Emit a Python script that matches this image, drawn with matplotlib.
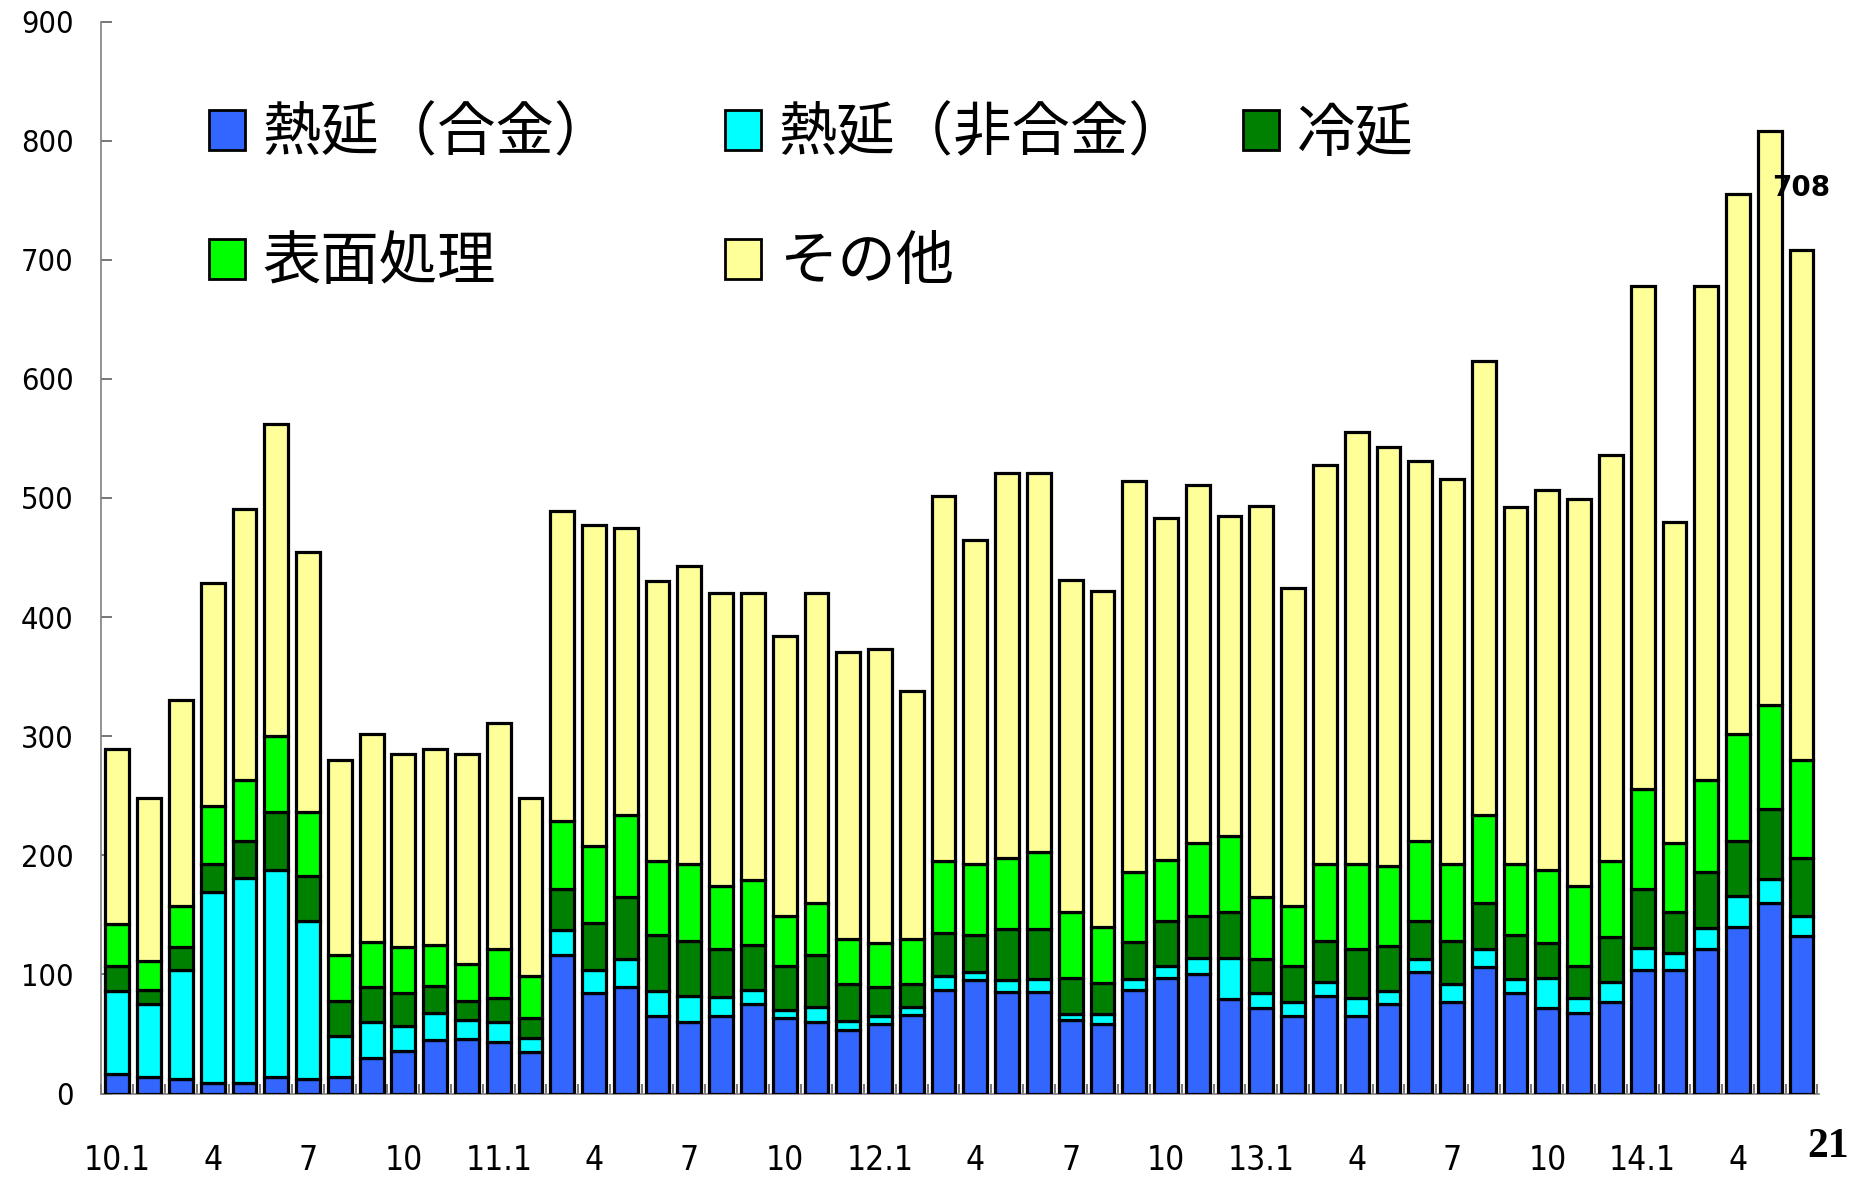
import matplotlib
matplotlib.use("Agg")
import matplotlib.pyplot as plt
from matplotlib.patches import Patch
import numpy as np

plt.rcParams['font.family'] = ['DejaVu Sans', 'Noto Sans CJK JP']

# ---- data (thousand t), monthly 2010.1 - 2014.6 ----
months = ["10.1", "2", "3", "4", "5", "6", "7", "8", "9", "10", "11", "12",
          "11.1", "2", "3", "4", "5", "6", "7", "8", "9", "10", "11", "12",
          "12.1", "2", "3", "4", "5", "6", "7", "8", "9", "10", "11", "12",
          "13.1", "2", "3", "4", "5", "6", "7", "8", "9", "10", "11", "12",
          "14.1", "2", "3", "4", "5", "6"]

hot_alloy = [16, 14, 12, 9, 9, 14, 12, 14, 30, 36, 45, 46,
             43, 35, 116, 84, 89, 65, 60, 65, 75, 63, 60, 53,
             58, 66, 87, 95, 85, 85, 62, 58, 87, 97, 100, 79,
             72, 65, 82, 65, 75, 102, 77, 106, 84, 72, 68, 77,
             104, 104, 121, 140, 160, 132]
hot_nonalloy = [70, 61, 92, 160, 172, 174, 133, 34, 30, 21, 23, 16,
                17, 12, 21, 20, 24, 21, 22, 16, 12, 7, 13, 8,
                7, 7, 12, 7, 10, 11, 5, 9, 9, 10, 14, 35,
                12, 12, 12, 15, 11, 11, 15, 15, 12, 25, 12, 17,
                18, 14, 18, 26, 20, 17]
cold = [21, 12, 19, 24, 31, 48, 38, 30, 29, 27, 22, 16,
        20, 16, 35, 39, 52, 47, 46, 40, 38, 37, 43, 31,
        24, 19, 36, 31, 43, 42, 30, 26, 31, 38, 35, 38,
        29, 30, 34, 41, 38, 32, 36, 39, 37, 29, 27, 37,
        50, 34, 47, 46, 59, 49]
surface = [35, 24, 34, 48, 51, 64, 53, 38, 38, 39, 35, 31,
           41, 36, 57, 65, 69, 62, 65, 53, 54, 42, 44, 38,
           37, 38, 60, 60, 60, 65, 55, 47, 59, 51, 61, 64,
           52, 50, 65, 72, 67, 67, 65, 74, 60, 62, 67, 64,
           84, 58, 77, 90, 87, 82]
totals = [289, 248, 330, 429, 491, 562, 455, 280, 302, 285, 289, 285,
          311, 248, 489, 477, 475, 430, 443, 420, 420, 384, 420, 371,
          373, 338, 502, 465, 521, 521, 431, 422, 514, 483, 511, 485,
          493, 424, 528, 555, 543, 531, 516, 615, 492, 507, 499, 536,
          678, 480, 678, 755, 808, 708]
other = [t - a - b - c - d for t, a, b, c, d in
         zip(totals, hot_alloy, hot_nonalloy, cold, surface)]

series_names = ["熱延（合金）", "熱延（非合金）", "冷延", "表面処理", "その他"]
series_colors = ["#3366FF", "#00FFFF", "#008000", "#00FF00", "#FFFF99"]
series_values = [hot_alloy, hot_nonalloy, cold, surface, other]

tick_every = 3
y_ticks = list(range(0, 901, 100))
last_label = "708"
page_no = "21"

# ---- figure ----
W, H = 1874, 1179
fig = plt.figure(figsize=(W / 100, H / 100), dpi=100)
ax = fig.add_axes([101.5 / W, 1 - 1093.5 / H, (1819 - 101.5) / W, (1093.5 - 21.5) / H])

x = np.arange(len(months))
bottom = np.zeros(len(months))
for vals, col, name in zip(series_values, series_colors, series_names):
    ax.bar(x, vals, bottom=bottom, width=0.75, color=col, edgecolor="black",
           linewidth=2.3, label=name, zorder=3)
    bottom += np.array(vals)

ax.set_xlim(-0.45, len(months) - 0.45)
ax.set_ylim(0, 900)

for s in ["top", "right"]:
    ax.spines[s].set_visible(False)
for s in ["left", "bottom"]:
    ax.spines[s].set_color("#808080")
    ax.spines[s].set_linewidth(1.2)

ax.set_yticks(y_ticks)
ax.set_yticklabels([str(v) for v in y_ticks], fontsize=22, fontstretch="condensed")
ax.tick_params(axis="y", direction="in", length=8, width=1.2, color="#606060", pad=20)

# boundaries between bars as tick marks, labels every 3 months
ax.set_xticks(np.arange(len(months) + 1) - 0.5)
ax.set_xticklabels([])
ax.tick_params(axis="x", which="major", direction="in", length=7, width=1.2, color="#606060")
lab_pos = x[::tick_every]
ax.set_xticks(lab_pos, minor=True)
ax.set_xticklabels([months[i] for i in lab_pos], minor=True, fontsize=24,
                   fontstretch="condensed")
ax.tick_params(axis="x", which="minor", length=0, pad=36)

# last value label
ax.annotate(last_label, xy=(x[-1], totals[-1]), xytext=(0, 45),
            textcoords="offset points", ha="center", va="center",
            fontsize=20, fontweight="bold")

# legend: one entry per position
fs = 42
handles = [Patch(facecolor=c, edgecolor="black", linewidth=2.0) for c in series_colors]
positions = [(209, 134), (725, 134), (1243, 134), (209, 263), (725, 263)]
for h, name, (px, py) in zip(handles, series_names, positions):
    lg = fig.legend([h], [name], loc="center left",
                    bbox_to_anchor=(px / W, 1 - py / H),
                    frameon=False, borderpad=0, borderaxespad=0,
                    handlelength=0.62, handleheight=0.68, handletextpad=0.3,
                    prop={"family": ["Noto Sans CJK JP"], "size": fs})

fig.text(1828 / W, 1 - 1147 / H, page_no, ha="center", va="center",
         fontsize=30, fontweight="bold", family="Liberation Serif")

fig.savefig("out.png", dpi=100)
